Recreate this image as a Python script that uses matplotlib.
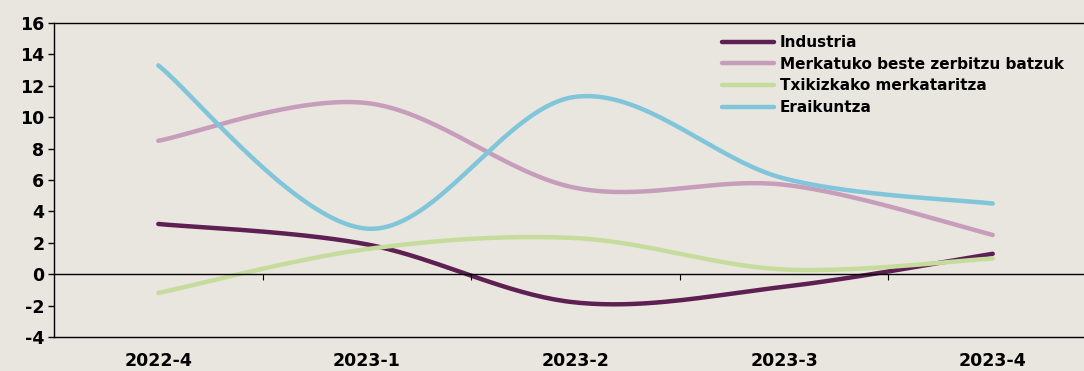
import numpy as np
import matplotlib.pyplot as plt

# Quarters and series values
quarters = ['2022-4', '2023-1', '2023-2', '2023-3', '2023-4']
industria = [3.2, 1.9, -1.8, -0.8, 1.3]
merkatuko = [8.5, 10.9, 5.5, 5.7, 2.5]
txikizkako = [-1.2, 1.6, 2.3, 0.3, 1.0]
eraikuntza = [13.3, 2.9, 11.3, 6.1, 4.5]

labels = ['Industria', 'Merkatuko beste zerbitzu batzuk',
          'Txikizkako merkataritza', 'Eraikuntza']
colors = ['#5E1F52', '#C69DBA', '#C6DC9C', '#80C5D9']
bg = '#E9E6E0'


def smooth(y, n=40):
    # Excel-like smoothed line: cubic Bezier segments between data points
    y = np.asarray(y, float)
    x = np.arange(len(y), dtype=float)
    pts = np.column_stack([x, y])
    ext = np.vstack([pts[0], pts, pts[-1]])
    out = []
    t = np.linspace(0, 1, n)[:, None]
    for i in range(len(pts) - 1):
        p0, p1 = ext[i + 1], ext[i + 2]
        b1 = p0 + (ext[i + 2] - ext[i]) / 6
        b2 = p1 - (ext[i + 3] - ext[i + 1]) / 6
        seg = ((1 - t) ** 3) * p0 + 3 * ((1 - t) ** 2) * t * b1 \
            + 3 * (1 - t) * t ** 2 * b2 + t ** 3 * p1
        out.append(seg if i == 0 else seg[1:])
    seg = np.vstack(out)
    return seg[:, 0], seg[:, 1]


fig = plt.figure(figsize=(10.84, 3.71), dpi=100, facecolor=bg)
ax = fig.add_axes([54 / 1084, 34 / 371, 5 * 208.6 / 1084, 314 / 371])
ax.set_facecolor(bg)

for vals, lab, col in zip([industria, merkatuko, txikizkako, eraikuntza], labels, colors):
    xs, ys = smooth(vals)
    ax.plot(xs, ys, color=col, lw=3.2, label=lab, solid_capstyle='round')

ax.set_xlim(-0.5, len(quarters) - 0.5)
ax.set_ylim(-4, 16)
ax.set_yticks(range(-4, 17, 2))
ax.set_yticklabels([str(v) for v in range(-4, 17, 2)], fontsize=12.5, fontweight='bold')

# zero line with category-boundary ticks
ax.axhline(0, color='black', lw=1)
bounds = np.arange(len(quarters) - 1) + 0.5
ax.vlines(bounds, -0.35, 0, color='black', lw=0.8)

ax.set_xticks(range(len(quarters)))
ax.set_xticklabels(quarters, fontsize=12.5, fontweight='bold')
ax.tick_params(axis='x', length=0, pad=11)
ax.tick_params(axis='y', length=4, width=1, pad=3)

for s in ['left', 'top', 'bottom']:
    ax.spines[s].set_color('black')
    ax.spines[s].set_linewidth(1)
ax.spines['right'].set_visible(False)

leg = ax.legend(loc='upper left', bbox_to_anchor=(722 / 1084, 1 - 35 / 371),
                bbox_transform=fig.transFigure, frameon=False,
                prop={'size': 11, 'weight': 'bold'}, handlelength=3.4,
                handletextpad=0.4, labelspacing=0.44, borderpad=0, borderaxespad=0)

fig.savefig('out.png', dpi=100, facecolor=bg)
